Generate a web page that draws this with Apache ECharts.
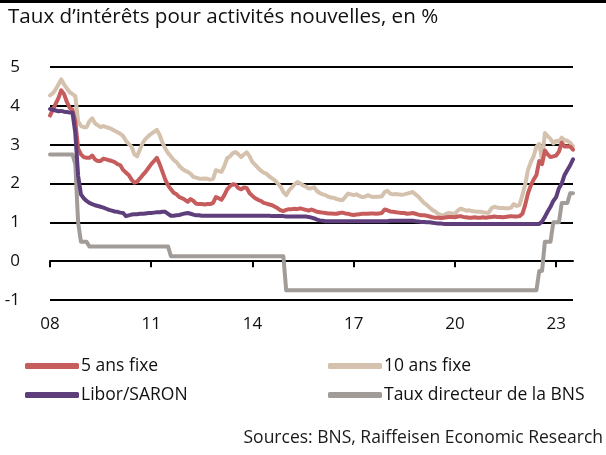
<!DOCTYPE html>
<html>
<head>
<meta charset="utf-8">
<script src="https://cdn.jsdelivr.net/npm/echarts@6/dist/echarts.min.js"></script>
<style>
html, body { margin: 0; padding: 0; background: #fff; }
#chart { width: 606px; height: 455px; }
</style>
</head>
<body>
<div id="chart"></div>
<script>
// monthly data, Jan 2008 .. Jul 2023
var startYear = 2008;
var monthCount = 187;

var fiveYears = [
    3.75,3.90,4.05,4.20,4.40,4.30,4.10,3.95,3.90,3.60,2.90,2.75,
    2.68,2.66,2.66,2.72,2.62,2.58,2.58,2.64,2.62,2.60,2.58,2.55,
    2.50,2.47,2.35,2.28,2.22,2.10,2.02,2.05,2.13,2.22,2.30,2.40,
    2.50,2.58,2.66,2.50,2.30,2.10,1.95,1.85,1.76,1.72,1.65,1.62,
    1.58,1.53,1.60,1.55,1.48,1.47,1.47,1.46,1.47,1.47,1.50,1.65,
    1.62,1.58,1.70,1.85,1.93,1.98,1.97,1.88,1.85,1.90,1.88,1.75,
    1.68,1.62,1.58,1.55,1.50,1.48,1.46,1.44,1.40,1.36,1.31,1.29,
    1.32,1.34,1.34,1.35,1.34,1.36,1.34,1.32,1.30,1.33,1.30,1.27,
    1.26,1.25,1.24,1.23,1.23,1.22,1.22,1.24,1.25,1.23,1.22,1.20,
    1.19,1.20,1.21,1.22,1.22,1.22,1.23,1.23,1.22,1.23,1.24,1.33,
    1.31,1.28,1.27,1.26,1.25,1.24,1.24,1.22,1.23,1.24,1.22,1.20,
    1.18,1.18,1.17,1.15,1.13,1.12,1.12,1.11,1.12,1.13,1.14,1.14,
    1.13,1.15,1.16,1.14,1.13,1.12,1.12,1.13,1.12,1.12,1.13,1.12,
    1.13,1.14,1.15,1.14,1.14,1.13,1.14,1.15,1.16,1.15,1.15,1.16,
    1.22,1.45,1.75,1.95,2.10,2.22,2.58,2.50,2.85,2.75,2.68,2.70,
    2.72,2.82,3.05,2.95,2.96,2.95,2.87
];

var tenYears = [
    4.27,4.32,4.42,4.55,4.68,4.55,4.45,4.35,4.30,4.25,3.60,3.48,
    3.45,3.45,3.60,3.68,3.55,3.50,3.45,3.48,3.45,3.43,3.40,3.36,
    3.32,3.28,3.22,3.10,3.02,2.95,2.75,2.70,2.88,3.05,3.15,3.22,
    3.28,3.33,3.38,3.25,3.05,2.90,2.78,2.70,2.60,2.55,2.45,2.38,
    2.33,2.30,2.25,2.17,2.15,2.13,2.12,2.13,2.12,2.10,2.12,2.34,
    2.32,2.30,2.45,2.65,2.70,2.78,2.81,2.75,2.68,2.75,2.80,2.70,
    2.55,2.48,2.40,2.33,2.28,2.25,2.18,2.13,2.08,2.00,1.92,1.78,
    1.70,1.82,1.90,1.98,2.04,2.00,1.95,1.92,1.87,1.88,1.90,1.80,
    1.75,1.72,1.70,1.66,1.64,1.63,1.60,1.58,1.57,1.65,1.74,1.72,
    1.70,1.72,1.68,1.65,1.66,1.70,1.67,1.65,1.66,1.66,1.67,1.78,
    1.81,1.74,1.72,1.73,1.72,1.71,1.72,1.74,1.76,1.78,1.72,1.66,
    1.58,1.50,1.45,1.38,1.32,1.28,1.22,1.19,1.18,1.22,1.24,1.23,
    1.22,1.30,1.35,1.33,1.30,1.31,1.29,1.28,1.27,1.27,1.26,1.25,
    1.25,1.36,1.40,1.38,1.37,1.37,1.36,1.36,1.38,1.47,1.42,1.45,
    1.70,1.98,2.35,2.55,2.70,2.95,3.02,2.60,3.30,3.22,3.15,3.03,
    3.10,3.08,3.18,3.12,3.10,3.05,2.96
];

var liborSaron = [
    3.92,3.90,3.88,3.86,3.87,3.85,3.84,3.83,3.82,3.30,2.20,1.72,
    1.62,1.55,1.50,1.47,1.44,1.42,1.40,1.38,1.35,1.32,1.30,1.28,
    1.27,1.25,1.24,1.16,1.18,1.20,1.21,1.21,1.22,1.22,1.23,1.24,
    1.24,1.25,1.26,1.26,1.27,1.27,1.22,1.17,1.17,1.18,1.19,1.21,
    1.23,1.24,1.22,1.20,1.18,1.18,1.17,1.17,1.17,1.17,1.17,1.17,
    1.17,1.17,1.17,1.17,1.17,1.17,1.17,1.17,1.17,1.17,1.17,1.17,
    1.17,1.17,1.17,1.17,1.17,1.17,1.17,1.16,1.16,1.16,1.16,1.16,
    1.15,1.15,1.15,1.15,1.15,1.15,1.15,1.15,1.14,1.12,1.10,1.07,
    1.05,1.04,1.03,1.03,1.03,1.03,1.03,1.03,1.03,1.03,1.03,1.03,
    1.03,1.03,1.03,1.03,1.03,1.03,1.03,1.03,1.03,1.03,1.03,1.03,
    1.03,1.04,1.04,1.04,1.04,1.04,1.04,1.04,1.04,1.04,1.03,1.02,
    1.01,1.01,1.00,1.00,0.99,0.98,0.97,0.97,0.96,0.96,0.96,0.96,
    0.96,0.96,0.96,0.96,0.96,0.96,0.96,0.96,0.96,0.96,0.96,0.96,
    0.96,0.96,0.96,0.96,0.96,0.96,0.96,0.96,0.96,0.96,0.96,0.96,
    0.96,0.96,0.96,0.96,0.96,0.96,0.96,1.02,1.14,1.28,1.40,1.55,
    1.65,1.88,2.00,2.22,2.35,2.47,2.62
];

var snbRate = [
    2.75,2.75,2.75,2.75,2.75,2.75,2.75,2.75,2.75,2.5,1.0,0.5,
    0.5,0.5,0.375,0.375,0.375,0.375,0.375,0.375,0.375,0.375,0.375,0.375,
    0.375,0.375,0.375,0.375,0.375,0.375,0.375,0.375,0.375,0.375,0.375,0.375,
    0.375,0.375,0.375,0.375,0.375,0.375,0.375,0.125,0.125,0.125,0.125,0.125,
    0.125,0.125,0.125,0.125,0.125,0.125,0.125,0.125,0.125,0.125,0.125,0.125,
    0.125,0.125,0.125,0.125,0.125,0.125,0.125,0.125,0.125,0.125,0.125,0.125,
    0.125,0.125,0.125,0.125,0.125,0.125,0.125,0.125,0.125,0.125,0.125,0.125,
    -0.75,-0.75,-0.75,-0.75,-0.75,-0.75,-0.75,-0.75,-0.75,-0.75,-0.75,-0.75,
    -0.75,-0.75,-0.75,-0.75,-0.75,-0.75,-0.75,-0.75,-0.75,-0.75,-0.75,-0.75,
    -0.75,-0.75,-0.75,-0.75,-0.75,-0.75,-0.75,-0.75,-0.75,-0.75,-0.75,-0.75,
    -0.75,-0.75,-0.75,-0.75,-0.75,-0.75,-0.75,-0.75,-0.75,-0.75,-0.75,-0.75,
    -0.75,-0.75,-0.75,-0.75,-0.75,-0.75,-0.75,-0.75,-0.75,-0.75,-0.75,-0.75,
    -0.75,-0.75,-0.75,-0.75,-0.75,-0.75,-0.75,-0.75,-0.75,-0.75,-0.75,-0.75,
    -0.75,-0.75,-0.75,-0.75,-0.75,-0.75,-0.75,-0.75,-0.75,-0.75,-0.75,-0.75,
    -0.75,-0.75,-0.75,-0.75,-0.75,-0.75,-0.25,-0.25,0.5,0.5,0.5,1.0,
    1.0,1.0,1.5,1.5,1.5,1.75,1.75
];

var seriesNames = ['5 ans fixe', '10 ans fixe', 'Libor/SARON', 'Taux directeur de la BNS'];
var colors = ['#c65d5c', '#d5c2ae', '#5e3f7c', '#a29c98'];

// month categories
var months = [];
for (var i = 0; i < monthCount; i++) {
    var y = startYear + Math.floor(i / 12);
    var m = (i % 12) + 1;
    months.push(y + '-' + (m < 10 ? '0' + m : m));
}

function yearTick(index) {
    return index % 36 === 0;
}

var myChart = echarts.init(document.getElementById('chart'));
var fontFamily = 'Open Sans';

function lineSeries(name, data, color) {
    return {
        name: name,
        type: 'line',
        data: data,
        xAxisIndex: 0,
        showSymbol: false,
        symbol: 'none',
        animation: false,
        lineStyle: { width: 4, color: color, join: 'round', cap: 'round' },
        itemStyle: { color: color }
    };
}

var legendCommon = {
    orient: 'vertical',
    top: 352,
    itemWidth: 54,
    itemHeight: 6,
    itemGap: 11,
    icon: 'roundRect',
    textStyle: { fontSize: 17.5, color: '#111', fontFamily: fontFamily, padding: [0, 0, 0, -3] }
};

var option = {
    animation: false,
    textStyle: { fontFamily: fontFamily },
    graphic: [
        { type: 'rect', shape: { x: 0, y: 0, width: 606, height: 3 }, style: { fill: '#000' } },
        {
            type: 'text', left: 8, top: 7,
            style: { text: 'Taux d\u2019intérêts pour activités nouvelles, en %', fontSize: 20.6, fontFamily: fontFamily, fill: '#111' }
        },
        {
            type: 'text', right: 3, top: 429,
            style: { text: 'Sources: BNS, Raiffeisen Economic Research', fontSize: 17.5, fontFamily: fontFamily, fill: '#1a1a1a' }
        }
    ],
    legend: [
        echarts.util.extend({ left: 20, data: [seriesNames[0], seriesNames[2]] }, legendCommon),
        echarts.util.extend({ left: 323, data: [seriesNames[1], seriesNames[3]] }, legendCommon)
    ],
    grid: { left: 50, right: 33, top: 67, bottom: 155 },
    xAxis: [
        {
            type: 'category',
            data: months,
            boundaryGap: false,
            position: 'bottom',
            axisLine: { show: false, onZero: false },
            axisTick: { show: false },
            axisLabel: {
                interval: yearTick,
                fontSize: 17,
                color: '#111',
                margin: 16,
                formatter: function (v) { return v.slice(2, 4); }
            },
            splitLine: { show: false }
        },
        {
            type: 'category',
            data: months,
            boundaryGap: false,
            position: 'top',
            axisLine: { show: true, onZero: true, lineStyle: { color: '#000', width: 2 } },
            axisTick: { show: true, inside: true, length: 6, interval: yearTick, lineStyle: { color: '#000', width: 2 } },
            axisLabel: { show: false },
            splitLine: { show: false }
        }
    ],
    yAxis: {
        type: 'value',
        min: -1,
        max: 5,
        interval: 1,
        axisLine: { show: false },
        axisTick: { show: false },
        axisLabel: { fontSize: 17, color: '#111', margin: 30 },
        splitLine: { lineStyle: { color: '#000', width: 2 } }
    },
    series: [
        lineSeries(seriesNames[3], snbRate, colors[3]),
        lineSeries(seriesNames[1], tenYears, colors[1]),
        lineSeries(seriesNames[0], fiveYears, colors[0]),
        lineSeries(seriesNames[2], liborSaron, colors[2])
    ]
};
myChart.setOption(option);
window.addEventListener("resize", function () {
    myChart.resize();
});
</script>
</body>
</html>
